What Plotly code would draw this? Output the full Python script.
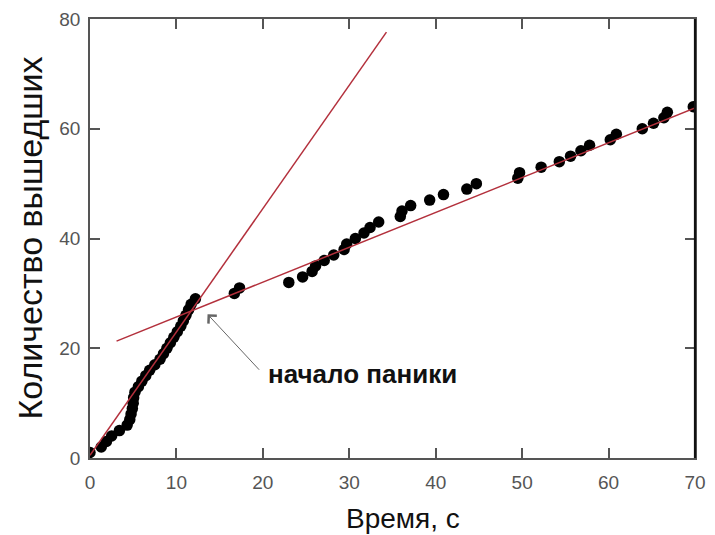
import plotly.graph_objects as go

# Exit time (s) of each evacuee and cumulative number exited
time_s = [0.0, 1.3, 1.9, 2.5, 3.4, 4.3, 4.6, 4.75, 4.9, 5.0,
          5.05, 5.2, 5.6, 6.0, 6.45, 6.9, 7.5, 8.1, 8.5, 8.9,
          9.3, 9.7, 10.1, 10.5, 10.8, 11.1, 11.4, 11.7, 12.2,
          16.7, 17.3, 23.0, 24.6, 25.7, 26.1, 27.1, 28.2, 29.4, 29.7,
          30.7, 31.7, 32.4, 33.4, 35.9, 36.1, 37.1, 39.3, 40.9, 43.6,
          44.7, 49.5, 49.7, 52.2, 54.3, 55.6, 56.8, 57.8, 60.2, 60.9,
          63.9, 65.2, 66.4, 66.8, 69.8]
exited = list(range(1, len(time_s) + 1))

# Fitted lines (endpoints)
fit_early_x = [0.0, 34.3]
fit_early_y = [0.5, 77.6]
fit_late_x = [3.07, 70.0]
fit_late_y = [21.3, 63.8]

# Annotation: start of panic
panic_x, panic_y = 13.6, 26.2
panic_label = "начало паники"

x_title = "Время, с"
y_title = "Количество вышедших"

x_ticks = [0, 10, 20, 30, 40, 50, 60, 70]
y_ticks = [0, 20, 40, 60, 80]

line_color = "#b3303c"
axis_color = "#555555"
font_family = "Liberation Sans, Arial, sans-serif"

fig = go.Figure()
fig.add_trace(go.Scatter(x=time_s, y=exited, mode="markers",
                         marker=dict(color="black", size=11.5, line=dict(width=0)),
                         showlegend=False, hoverinfo="skip"))
fig.add_trace(go.Scatter(x=fit_early_x, y=fit_early_y, mode="lines",
                         line=dict(color=line_color, width=1.5), showlegend=False))
fig.add_trace(go.Scatter(x=fit_late_x, y=fit_late_y, mode="lines",
                         line=dict(color=line_color, width=1.5), showlegend=False))

# arrow
fig.add_annotation(x=panic_x, y=panic_y, xref="x", yref="y", text="",
                   showarrow=True, arrowhead=4, arrowsize=2.2, arrowwidth=1,
                   arrowcolor="#666666", ax=53, ay=57, standoff=0)
# label
fig.add_annotation(x=panic_x, y=panic_y, xref="x", yref="y", text=panic_label,
                   showarrow=False, xanchor="left", yanchor="middle",
                   xshift=58, yshift=-60,
                   font=dict(family=font_family, size=26, color="#111111", weight="bold"))

# axis titles
fig.add_annotation(x=0.5, y=0, xref="paper", yref="paper", text=x_title,
                   showarrow=False, xanchor="center", yanchor="middle",
                   xshift=10, yshift=-60,
                   font=dict(family=font_family, size=28, color="#111111"))
fig.add_annotation(x=0, y=0.5, xref="paper", yref="paper", text=y_title,
                   showarrow=False, xanchor="center", yanchor="middle", textangle=-90,
                   xshift=-61,
                   font=dict(family=font_family, size=34, color="#111111"))

# right frame edge drawn darker, as in the reference
fig.add_shape(type="line", xref="paper", yref="paper", x0=1, x1=1, y0=0, y1=1,
              line=dict(color="#111111", width=2.2))

tick_font = dict(family=font_family, size=19, color="#555555")

fig.update_layout(
    width=715, height=535,
    margin=dict(l=90, r=9, t=17, b=77),
    paper_bgcolor="white", plot_bgcolor="white",
    xaxis=dict(range=[0, 70], tickvals=x_ticks, ticks="inside", ticklen=10,
               tickwidth=1.5, tickcolor=axis_color, showline=True, linecolor=axis_color,
               linewidth=1.5, mirror="ticks", showgrid=False, zeroline=False,
               tickfont=tick_font, ticklabelstandoff=6),
    yaxis=dict(range=[0, 80], tickvals=y_ticks, ticks="inside", ticklen=10,
               tickwidth=1.5, tickcolor=axis_color, showline=True, linecolor=axis_color,
               linewidth=1.5, mirror="ticks", showgrid=False, zeroline=False,
               tickfont=tick_font, ticklabelstandoff=4),
)

fig.write_html("out.html", config={"displayModeBar": False},
               post_script="document.body.style.margin='0';document.body.style.overflow='hidden';")
